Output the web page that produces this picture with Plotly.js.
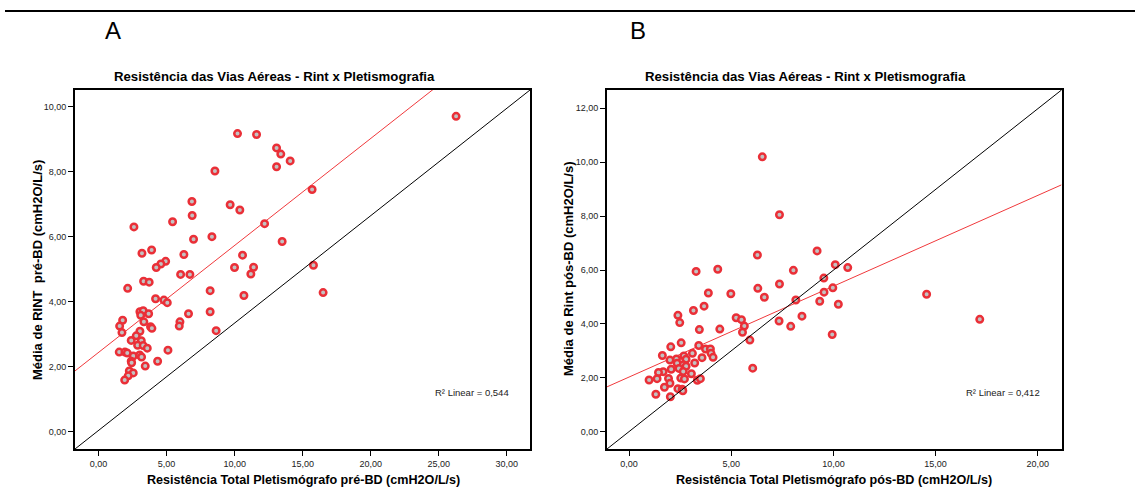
<!DOCTYPE html>
<html><head><meta charset="utf-8">
<script src="https://cdn.plot.ly/plotly-3.0.1.min.js"></script>
<style>html,body{margin:0;padding:0;background:#fff}#chart{width:1135px;height:488px}</style>
</head><body><div id="chart"></div><script>
// Panel A: pre-BD
const aX=[10.21,11.61,13.08,13.39,14.08,13.08,8.55,15.69,6.86,9.67,10.38,6.88,12.20,2.60,5.44,6.98,8.33,13.49,3.19,3.90,6.27,10.58,4.93,4.58,4.24,9.99,11.39,15.79,2.14,3.31,3.72,6.03,6.71,11.19,16.50,8.20,10.68,4.19,4.80,5.05,3.04,3.28,3.68,3.10,3.33,1.77,1.55,1.72,3.82,3.92,5.98,5.93,6.61,8.20,8.64,3.04,2.77,2.40,3.14,2.87,3.28,3.58,5.10,1.52,1.94,2.11,2.55,3.02,3.16,2.40,2.43,4.34,3.43,2.26,2.55,2.18,1.92,26.27];
const aY=[9.17,9.14,8.73,8.54,8.33,8.15,8.02,7.45,7.08,6.98,6.82,6.65,6.40,6.30,6.46,5.92,6.00,5.85,5.49,5.59,5.45,5.43,5.24,5.16,5.05,5.05,5.06,5.12,4.41,4.63,4.60,4.84,4.84,4.85,4.28,4.34,4.19,4.09,4.05,3.97,3.69,3.72,3.63,3.58,3.38,3.43,3.25,3.05,3.23,3.18,3.38,3.25,3.63,3.69,3.11,3.09,2.95,2.81,2.80,2.66,2.65,2.57,2.51,2.45,2.45,2.42,2.33,2.36,2.30,2.17,2.12,2.17,2.02,1.87,1.81,1.72,1.59,9.70];
const aFit={intercept:2.44,slope:0.329};
const aR2='0,544';
// Panel B: pos-BD
const bX=[6.52,7.36,9.20,6.28,3.28,4.34,8.04,10.09,10.70,9.53,7.36,9.97,9.54,6.30,3.88,4.98,6.62,8.16,9.33,10.24,3.67,3.15,2.39,2.48,5.24,5.50,5.64,5.55,4.44,3.44,7.34,7.91,8.46,5.91,6.05,9.94,14.56,17.16,2.55,2.04,3.41,3.74,3.98,4.01,4.11,3.57,3.10,1.63,2.00,2.32,2.68,2.79,2.35,2.65,3.21,2.79,2.06,2.44,1.67,1.44,2.65,3.05,1.93,1.37,0.98,2.53,2.71,3.34,3.49,2.00,1.73,2.39,2.60,2.63,1.31,2.02];
const bY=[10.20,8.05,6.71,6.56,5.95,6.03,5.99,6.20,6.09,5.70,5.48,5.34,5.18,5.32,5.15,5.12,4.99,4.89,4.84,4.73,4.66,4.50,4.32,4.05,4.23,4.16,3.92,3.69,3.81,3.79,4.11,3.91,4.29,3.40,2.36,3.61,5.10,4.17,3.30,3.15,3.20,3.07,3.07,2.91,2.76,2.75,2.91,2.83,2.66,2.70,2.81,2.69,2.54,2.49,2.55,2.43,2.32,2.35,2.23,2.20,2.24,2.15,1.98,1.97,1.92,1.99,1.96,1.91,1.97,1.80,1.65,1.60,1.58,1.52,1.39,1.30];
const bFit={intercept:2.03,slope:0.337};
const bR2='0,412';

const aTitle='Resistência das Vias Aéreas - Rint x Pletismografia';
const bTitle='Resistência das Vias Aéreas - Rint x Pletismografia';
const aXTitle='Resistência Total Pletismógrafo pré-BD (cmH2O/L/s)';
const bXTitle='Resistência Total Pletismógrafo pós-BD (cmH2O/L/s)';
const aYTitle='Média de RINT\u00a0 pré-BD (cmH2O/L/s)';
const bYTitle='Média de Rint pós-BD (cmH2O/L/s)';

const aXRange=[-1.73,31.7], aYRange=[-0.53,10.51];
const bXRange=[-1.08,21.16], bYRange=[-0.64,12.68];

const W=1135,H=488;
const px=v=>v/W, py=v=>1-v/H;
const FONT='Liberation Sans, Arial, sans-serif';
const red='#ea2f37';

const marker={size:6.5,color:'#c2c2c2',line:{color:red,width:2.5}};
function fitLine(fit,xr,xa,ya){
  return {x:[xr[0],xr[1]],y:[fit.intercept+fit.slope*xr[0],fit.intercept+fit.slope*xr[1]],
    mode:'lines',line:{color:'#f0393c',width:1},xaxis:xa,yaxis:ya,hoverinfo:'skip'};
}
const data=[
  fitLine(aFit,aXRange,'x','y'),
  {x:aX,y:aY,mode:'markers',marker:marker,xaxis:'x',yaxis:'y',cliponaxis:false},
  fitLine(bFit,bXRange,'x2','y2'),
  {x:bX,y:bY,mode:'markers',marker:marker,xaxis:'x2',yaxis:'y2',cliponaxis:false}
];
const yDom=[py(449),py(90)];
function axis(dom,range,dtick,anchor){
  return {domain:dom,range:range,dtick:dtick,tick0:0,tickformat:'.2f',showgrid:false,zeroline:false,
    showline:true,mirror:true,linecolor:'#000',linewidth:2,ticks:'outside',ticklen:5,tickwidth:1,tickcolor:'#000',
    tickfont:{family:FONT,size:9,color:'#222'},anchor:anchor,fixedrange:true};
}
function ann(text,x,y,size,opts){
  return Object.assign({text:text,x:px(x),y:py(y),xref:'paper',yref:'paper',showarrow:false,
    xanchor:'center',yanchor:'middle',font:{family:FONT,size:size,color:'#000'}},opts||{});
}
const layout={
  width:W,height:H,margin:{l:0,r:0,t:0,b:0},paper_bgcolor:'#fff',plot_bgcolor:'#fff',
  showlegend:false,separators:',.',
  xaxis:axis([px(75),px(530)],aXRange,5,'y'),
  yaxis:axis(yDom,aYRange,2,'x'),
  xaxis2:axis([px(607),px(1061.5)],bXRange,5,'y2'),
  yaxis2:axis(yDom,bYRange,2,'x2'),
  shapes:[
    {type:'line',xref:'paper',yref:'paper',x0:px(5),x1:1,y0:py(11),y1:py(11),line:{color:'#000',width:2}},
    {type:'line',xref:'x domain',yref:'y domain',x0:0,y0:0,x1:1,y1:1,line:{color:'#000',width:1}},
    {type:'line',xref:'x2 domain',yref:'y2 domain',x0:0,y0:0,x1:1,y1:1,line:{color:'#000',width:1}}
  ],
  annotations:[
    ann('A',113,31,24),
    ann('B',638,31,24),
    ann('<b>'+aTitle+'</b>',274.6,76,13.2),
    ann('<b>'+bTitle+'</b>',805.7,76,13.2),
    ann('<b>'+aXTitle+'</b>',303,480,12.6),
    ann('<b>'+bXTitle+'</b>',834,480,12.6),
    ann('<b>'+aYTitle+'</b>',37.5,270.5,13,{textangle:-90}),
    ann('<b>'+bYTitle+'</b>',568,269,13,{textangle:-90}),
    ann('R² Linear = '+aR2,472,392.3,9.5,{font:{family:FONT,size:9.5,color:'#222'}}),
    ann('R² Linear = '+bR2,1003,392.3,9.5,{font:{family:FONT,size:9.5,color:'#222'}})
  ]
};
Plotly.newPlot('chart',data,layout,{displayModeBar:false,staticPlot:true});
</script></body></html>
